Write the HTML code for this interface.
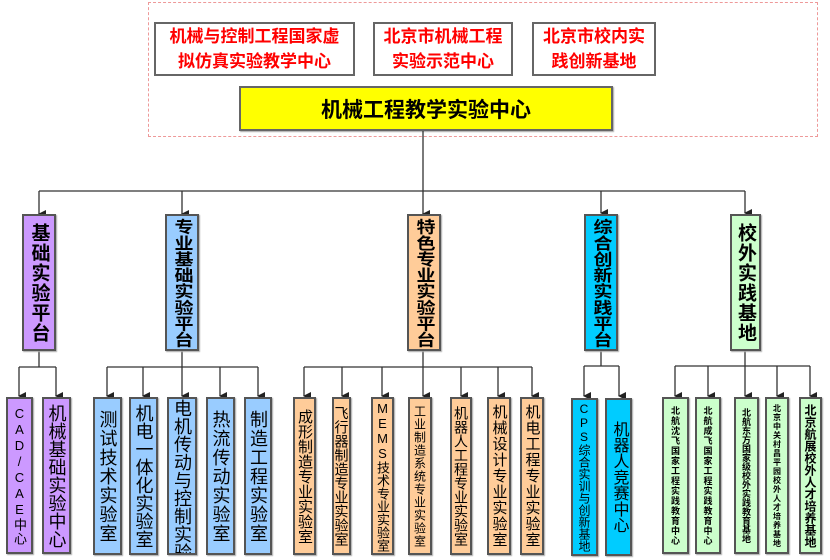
<!DOCTYPE html>
<html><head><meta charset="utf-8"><style>
body{margin:0;background:#fff;}
#c{position:relative;width:830px;height:560px;overflow:hidden;font-family:"Liberation Sans","Noto Sans CJK SC",sans-serif;}
.b{position:absolute;box-sizing:border-box;border:2px solid #555;display:flex;align-items:center;justify-content:center;box-shadow:1px 1px 1px #aaa;overflow:hidden;}
.v{writing-mode:vertical-rl;text-orientation:upright;white-space:nowrap;color:#000;}
.r{position:absolute;box-sizing:border-box;border:2px solid #666;background:#fff;color:#f00;font-weight:bold;font-size:17px;line-height:25px;text-align:center;display:flex;align-items:center;justify-content:center;}
.P{background:#CC99FF}.B{background:#99CCFF}.O{background:#FFCC99}.C{background:#00CCFF}.G{background:#CCFFCC}
.L2 .v{font-size:19px;font-weight:bold;}
.sq{transform:scaleY(0.85);}
</style></head><body><div id="c">
<div style="position:absolute;left:148px;top:2px;width:670px;height:135px;border:1px dashed #e99;box-sizing:border-box"></div>
<div class="r" style="left:154px;top:22px;width:201px;height:54px">机械与控制工程国家虚<br>拟仿真实验教学中心</div>
<div class="r" style="left:373px;top:22px;width:140px;height:54px">北京市机械工程<br>实验示范中心</div>
<div class="r" style="left:532px;top:22px;width:124px;height:54px">北京市校内实<br>践创新基地</div>
<div class="b" style="left:239px;top:86px;width:374px;height:45px;background:#ffff00;border-color:#666;font-size:21px;font-weight:bold">机械工程教学实验中心</div>

<svg style="position:absolute;left:0;top:0" width="830" height="560">
<defs><marker id="a" markerWidth="8" markerHeight="8" refX="4" refY="7" orient="auto" markerUnits="userSpaceOnUse"><path d="M0,0 L8,0 L4,8z" fill="#222"/></marker></defs>
<g stroke="#333" stroke-width="1.3" fill="none">
<line x1="423" y1="131" x2="423" y2="191"/>
<line x1="39" y1="191" x2="745" y2="191"/>
<line x1="39" y1="191" x2="39" y2="214" marker-end="url(#a)"/>
<line x1="182" y1="191" x2="182" y2="214" marker-end="url(#a)"/>
<line x1="423" y1="191" x2="423" y2="214" marker-end="url(#a)"/>
<line x1="601" y1="191" x2="601" y2="213" marker-end="url(#a)"/>
<line x1="745" y1="191" x2="745" y2="213" marker-end="url(#a)"/>
<line x1="39" y1="351" x2="39" y2="367"/><line x1="19" y1="367" x2="56" y2="367"/>
<line x1="19" y1="367" x2="19" y2="396" marker-end="url(#a)"/><line x1="56" y1="367" x2="56" y2="396" marker-end="url(#a)"/>
<line x1="107" y1="367" x2="258" y2="367"/>
<line x1="182" y1="351" x2="182" y2="396" marker-end="url(#a)"/>
<line x1="107" y1="367" x2="107" y2="396" marker-end="url(#a)"/>
<line x1="143" y1="367" x2="143" y2="396" marker-end="url(#a)"/>
<line x1="220" y1="367" x2="220" y2="396" marker-end="url(#a)"/>
<line x1="258" y1="367" x2="258" y2="396" marker-end="url(#a)"/>
<line x1="304" y1="367" x2="532" y2="367"/>
<line x1="423" y1="351" x2="423" y2="396" marker-end="url(#a)"/>
<line x1="304" y1="367" x2="304" y2="396" marker-end="url(#a)"/>
<line x1="342" y1="367" x2="342" y2="396" marker-end="url(#a)"/>
<line x1="382" y1="367" x2="382" y2="396" marker-end="url(#a)"/>
<line x1="461" y1="367" x2="461" y2="396" marker-end="url(#a)"/>
<line x1="498" y1="367" x2="498" y2="396" marker-end="url(#a)"/>
<line x1="532" y1="367" x2="532" y2="396" marker-end="url(#a)"/>
<line x1="601" y1="350" x2="601" y2="366"/><line x1="584" y1="366" x2="619" y2="366"/>
<line x1="584" y1="366" x2="584" y2="396" marker-end="url(#a)"/><line x1="619" y1="366" x2="619" y2="396" marker-end="url(#a)"/>
<line x1="675" y1="366" x2="810" y2="366"/>
<line x1="745" y1="350" x2="745" y2="396" marker-end="url(#a)"/>
<line x1="675" y1="366" x2="675" y2="396" marker-end="url(#a)"/>
<line x1="708" y1="366" x2="708" y2="396" marker-end="url(#a)"/>
<line x1="777" y1="366" x2="777" y2="396" marker-end="url(#a)"/>
<line x1="810" y1="366" x2="810" y2="396" marker-end="url(#a)"/>
</g></svg>

<div class="L2">
<div class="b P" style="left:22px;top:214px;width:34px;height:137px"><span class="v" style="letter-spacing:1px">基础实验平台</span></div>
<div class="b B" style="left:165px;top:214px;width:34px;height:137px"><span class="v sq">专业基础实验平台</span></div>
<div class="b O" style="left:407px;top:214px;width:34px;height:137px"><span class="v sq">特色专业实验平台</span></div>
<div class="b C" style="left:584px;top:214px;width:34px;height:137px"><span class="v sq">综合创新实践平台</span></div>
<div class="b G" style="left:730px;top:214px;width:31px;height:137px"><span class="v" style="letter-spacing:1px">校外实践基地</span></div>
</div>

<div class="b P" style="left:6px;top:397px;width:27px;height:157px"><span class="v" style="font-size:13px;letter-spacing:1px">CAD/CAE中心</span></div>
<div class="b P" style="left:42px;top:397px;width:29px;height:157px"><span class="v" style="font-size:18px">机械基础实验中心</span></div>
<div class="b B" style="left:93px;top:397px;width:29px;height:158px"><span class="v" style="font-size:18px;letter-spacing:1px">测试技术实验室</span></div>
<div class="b B" style="left:129px;top:397px;width:29px;height:158px"><span class="v" style="font-size:18px">机电一体化实验室</span></div>
<div class="b B" style="left:167px;top:397px;width:30px;height:158px;align-items:flex-start"><span class="v" style="font-size:18px">电机传动与控制实验</span></div>
<div class="b B" style="left:206px;top:397px;width:29px;height:158px"><span class="v" style="font-size:18px;letter-spacing:1px">热流传动实验室</span></div>
<div class="b B" style="left:244px;top:397px;width:28px;height:158px"><span class="v" style="font-size:18px;letter-spacing:1px">制造工程实验室</span></div>

<div class="b O" style="left:293px;top:397px;width:23px;height:158px"><span class="v" style="font-size:15px">成形制造专业实验室</span></div>
<div class="b O" style="left:332px;top:397px;width:19px;height:158px"><span class="v" style="font-size:14px">飞行器制造专业实验室</span></div>
<div class="b O" style="left:371px;top:397px;width:23px;height:158px"><span class="v" style="font-size:13px">MEMS技术专业实验室</span></div>
<div class="b O" style="left:408px;top:397px;width:24px;height:158px"><span class="v" style="font-size:12px;letter-spacing:1px">工业制造系统专业实验室</span></div>
<div class="b O" style="left:450px;top:397px;width:22px;height:158px"><span class="v" style="font-size:14px">机器人工程专业实验室</span></div>
<div class="b O" style="left:487px;top:397px;width:24px;height:158px"><span class="v" style="font-size:15px;letter-spacing:1px">机械设计专业实验室</span></div>
<div class="b O" style="left:520px;top:397px;width:24px;height:158px"><span class="v" style="font-size:15px;letter-spacing:1px">机电工程专业实验室</span></div>

<div class="b C" style="left:571px;top:398px;width:27px;height:158px"><span class="v" style="font-size:12px">CPS综合实训与创新基地</span></div>
<div class="b C" style="left:605px;top:398px;width:27px;height:158px"><span class="v" style="font-size:16px">机器人竞赛中心</span></div>

<div class="b G" style="left:662px;top:397px;width:27px;height:157px"><span class="v" style="font-size:9px;font-weight:bold;letter-spacing:1px">北航沈飞国家工程实践教育中心</span></div>
<div class="b G" style="left:695px;top:397px;width:26px;height:157px"><span class="v" style="font-size:9px;font-weight:bold;letter-spacing:1px">北航成飞国家工程实践教育中心</span></div>
<div class="b G" style="left:734px;top:397px;width:25px;height:157px"><span class="v" style="font-size:9px;font-weight:bold">北航东方国家级校外实践教育基地</span></div>
<div class="b G" style="left:765px;top:397px;width:24px;height:157px"><span class="v" style="font-size:8px;font-weight:bold;letter-spacing:1px">北京中关村昌平园校外人才培养基地</span></div>
<div class="b G" style="left:799px;top:397px;width:23px;height:157px"><span class="v" style="font-size:12px;font-weight:bold">北京航展校外人才培养基地</span></div>
</div></body></html>
